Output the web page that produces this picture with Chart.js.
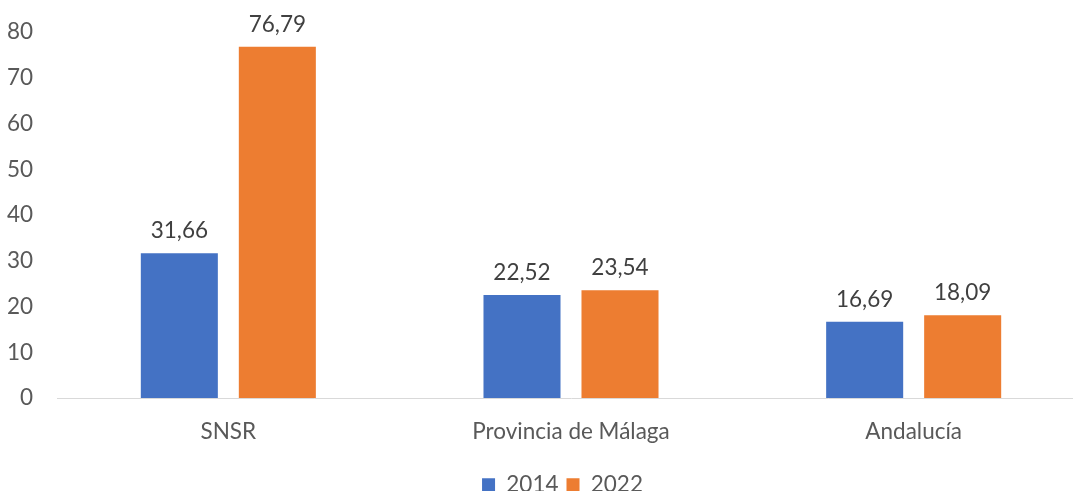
<!DOCTYPE html>
<html>
<head>
<meta charset="utf-8">
<script src="https://cdn.jsdelivr.net/npm/chart.js@4/dist/chart.umd.min.js"></script>
<style>
  html, body { margin: 0; padding: 0; background: #ffffff; overflow: hidden; }
  #wrap { width: 1073px; height: 491px; position: relative; overflow: hidden; }
  #c { position: absolute; left: 0; top: 0; }
</style>
</head>
<body>
<div id="wrap"><canvas id="c" width="1085" height="491"></canvas></div>
<script>
// Categories, series and axis ticks
const categories = ['SNSR', 'Provincia de Málaga', 'Andalucía'];
const series2014 = [31.66, 22.52, 16.69];
const series2022 = [76.79, 23.54, 18.09];
const yTicks = [0, 10, 20, 30, 40, 50, 60, 70, 80];

const FONT = 'Lato, "Liberation Sans", sans-serif';
const SIZE = 22.5;
const TEXT = '#595959';

// Writes each bar's value above it, Spanish decimal comma
const valueLabels = {
  id: 'valueLabels',
  afterDatasetsDraw(chart) {
    const ctx = chart.ctx;
    ctx.save();
    ctx.font = SIZE + 'px ' + FONT;
    ctx.fillStyle = '#404040';
    ctx.textAlign = 'center';
    ctx.textBaseline = 'alphabetic';
    chart.data.datasets.forEach((ds, i) => {
      chart.getDatasetMeta(i).data.forEach((bar, j) => {
        const txt = ds.data[j].toFixed(2).replace('.', ',');
        ctx.fillText(txt, bar.x, bar.y - 15);
      });
    });
    ctx.restore();
  }
};

// Nudges the legend row down and right under the plot
const legendNudge = {
  id: 'legendNudge',
  afterLayout(chart) {
    const lg = chart.legend;
    lg.top += 15; lg.bottom += 15;
    lg.left += 20; lg.right += 20;
  }
};

new Chart(document.getElementById('c'), {
  type: 'bar',
  data: {
    labels: categories,
    datasets: [
      { label: '2014', data: series2014, backgroundColor: '#4472C4' },
      { label: '2022', data: series2022, backgroundColor: '#ED7D31' }
    ]
  },
  options: {
    responsive: false,
    animation: false,
    devicePixelRatio: 1,
    layout: { padding: { top: 32, right: 0, left: 0, bottom: 0 } },
    datasets: { bar: { categoryPercentage: 0.572, barPercentage: 0.786 } },
    scales: {
      x: {
        afterFit(scale) { scale.height = 52.5; },
        grid: { display: false, drawTicks: false },
        border: { color: '#d9d9d9', width: 1 },
        ticks: { color: TEXT, font: { family: FONT, size: SIZE }, padding: 20 }
      },
      y: {
        min: 0,
        max: 80,
        afterBuildTicks(scale) { scale.ticks = yTicks.map(v => ({ value: v })); },
        afterFit(scale) {
          scale.width = 57;
          scale.paddingTop = 0;
          scale.paddingBottom = 0;
        },
        grid: { display: false, drawTicks: false },
        border: { display: false },
        ticks: { color: TEXT, font: { family: FONT, size: SIZE }, padding: 24 }
      }
    },
    plugins: {
      legend: {
        position: 'bottom',
        labels: {
          color: TEXT,
          font: { family: FONT, size: SIZE },
          boxWidth: 13,
          boxHeight: 13,
          padding: 8
        }
      },
      tooltip: { enabled: false }
    }
  },
  plugins: [valueLabels, legendNudge]
});
</script>
</body>
</html>
